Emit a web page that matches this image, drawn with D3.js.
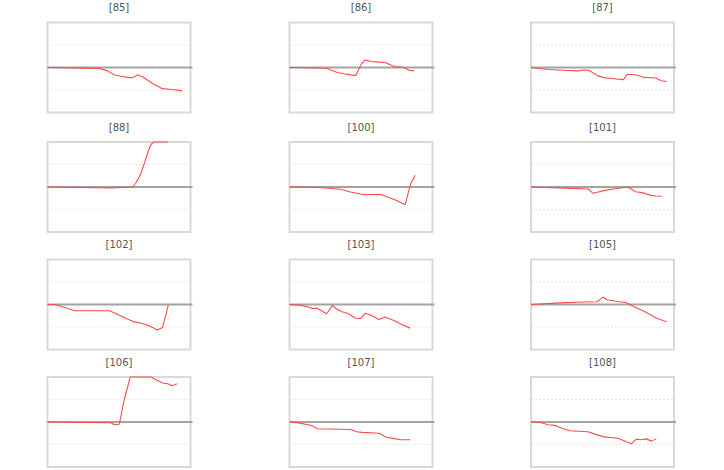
<!DOCTYPE html>
<html>
<head>
<meta charset="utf-8">
<script src="https://cdn.jsdelivr.net/npm/d3@7"></script>
<style>
  html, body { margin: 0; padding: 0; background: #fff; }
  svg { display: block; }
</style>
</head>
<body>
<svg id="chart" width="724" height="470"></svg>
<script>
// ---- data (time in % of period, value in units) ----
const titles = ["[85]", "[86]", "[87]", "[88]", "[100]", "[101]", "[102]", "[103]", "[105]", "[106]", "[107]", "[108]"];
const yTicks = [-1, 0, 1];
const s85 = [[0,0],[36.3,-0.04],[42,-0.15],[46.8,-0.33],[51.5,-0.39],[58.5,-0.46],[60.4,-0.42],[63.2,-0.33],[66.7,-0.42],[73.8,-0.72],[80.3,-0.94],[85.5,-0.97],[94.4,-1.04]];
const s86 = [[0,0],[25.9,-0.03],[33.4,-0.22],[38.1,-0.28],[46.3,-0.36],[50.2,0.15],[52.8,0.34],[56.8,0.27],[62.6,0.24],[67.3,0.21],[73.1,0.04],[80.1,0],[83.6,-0.12],[87.1,-0.15]];
const s87 = [[0,0],[4.2,-0.03],[12.4,-0.09],[23,-0.12],[32.3,-0.15],[37,-0.11],[40.5,-0.12],[46.4,-0.36],[51.1,-0.45],[58.1,-0.5],[64.6,-0.54],[67.4,-0.3],[73.8,-0.33],[79.2,-0.44],[87.4,-0.47],[90.9,-0.59],[94.8,-0.62]];
const s88 = [[0,0],[44.4,-0.04],[59.6,0],[62,0.2],[65,0.55],[68,1.1],[70.5,1.6],[72.5,1.9],[74.3,2.2],[84.1,2.3]];
const s100 = [[0,0],[18.5,-0.01],[36,-0.1],[41.8,-0.21],[51.2,-0.33],[64,-0.33],[74.5,-0.59],[80.8,-0.79],[84.6,0.12],[87.9,0.52]];
const s101 = [[0,0],[18.9,-0.04],[40,-0.09],[43.5,-0.28],[47,-0.22],[51.6,-0.15],[59.8,-0.07],[64,-0.03],[67.5,0],[70.3,-0.1],[73.1,-0.21],[77.8,-0.25],[82,-0.34],[87.1,-0.4],[91.4,-0.41]];
const s102 = [[0,0],[4.7,0],[10.6,-0.1],[16.4,-0.22],[19.5,-0.28],[43.4,-0.28],[48.1,-0.41],[54,-0.59],[59.9,-0.76],[64.1,-0.81],[69.2,-0.9],[73.5,-1.02],[76.8,-1.13],[80.5,-1.02],[84.5,-0.03]];
const s103 = [[0,0],[7.7,-0.04],[11.9,-0.09],[15.9,-0.18],[18.9,-0.16],[22.4,-0.28],[25.9,-0.41],[28.3,-0.22],[29.9,-0.04],[32.7,-0.19],[36.2,-0.31],[40.9,-0.4],[46.3,-0.61],[49.8,-0.62],[52.8,-0.39],[56.8,-0.47],[62.6,-0.67],[66.6,-0.56],[73.1,-0.71],[77.8,-0.87],[84.3,-1.05]];
const s105 = [[0,0],[16.9,0.06],[30.9,0.1],[46.1,0.12],[50.4,0.33],[53.2,0.21],[60.2,0.13],[66.5,0.09],[70.7,-0.06],[80.1,-0.33],[87.1,-0.59],[94.6,-0.77]];
const s106 = [[0,0],[44.4,-0.03],[46.7,-0.12],[50.2,-0.1],[53.7,1.0],[57.9,2.3],[72.4,2.1],[75.9,1.88],[80.6,1.73],[84.1,1.7],[87.1,1.61],[90.7,1.7]];
const s107 = [[0,0],[6.5,-0.04],[13.6,-0.13],[15.9,-0.16],[19.4,-0.3],[42.8,-0.33],[47,-0.43],[50.9,-0.46],[62.6,-0.5],[65,-0.58],[67.3,-0.67],[73.1,-0.74],[77.8,-0.79],[84.3,-0.79]];
const s108 = [[0,0],[6.1,-0.01],[11.9,-0.12],[16.6,-0.15],[21.2,-0.27],[27,-0.39],[39.9,-0.43],[45.2,-0.55],[51,-0.66],[60.8,-0.72],[65.5,-0.84],[70.2,-0.97],[73.7,-0.76],[76.5,-0.79],[80.7,-0.75],[84.2,-0.85],[87.6,-0.75]];
const seriesList = [s85, s86, s87, s88, s100, s101, s102, s103, s105, s106, s107, s108];

// ---- layout ----
const svg = d3.select("#chart");
const cols = 3, pw = 143, ph = 90;
const colLefts = [47.5, 289.5, 531];
const rowTops = [22.5, 142, 259.5, 377];

const x = d3.scaleLinear().domain([0, 100]).range([0, pw]);
const y = d3.scaleLinear().domain([-2, 2]).range([ph, 0]).clamp(true);
const line = d3.line().x(d => x(d[0])).y(d => y(d[1]));

titles.forEach((t, i) => {
  const c = i % cols, r = Math.floor(i / cols);
  const g = svg.append("g")
    .attr("transform", `translate(${colLefts[c]},${rowTops[r]})`);

  g.append("text")
    .attr("x", pw / 2).attr("y", -11.5)
    .attr("text-anchor", "middle")
    .style("font-family", "Verdana, 'DejaVu Sans', sans-serif")
    .style("font-size", "10px")
    .style("fill", "#555")
    .text(t);

  // gridlines
  g.selectAll("line.grid").data(yTicks.filter(v => v !== 0)).enter()
    .append("line").attr("class", "grid")
    .attr("x1", 0).attr("x2", pw)
    .attr("y1", d => y(d)).attr("y2", d => y(d))
    .attr("stroke", "#e6e6e6").attr("stroke-width", 1)
    .attr("stroke-dasharray", "2,2");

  // frame
  g.append("rect")
    .attr("x", 0).attr("y", 0).attr("width", pw).attr("height", ph)
    .attr("fill", "none").attr("stroke", "#d9d9d9").attr("stroke-width", 2);

  // zero line
  g.append("line")
    .attr("x1", 0).attr("x2", pw + 2)
    .attr("y1", y(0)).attr("y2", y(0))
    .attr("stroke", "#a3a3a3").attr("stroke-width", 2);

  // data line
  g.append("path")
    .datum(seriesList[i])
    .attr("d", line)
    .attr("fill", "none")
    .attr("stroke", "#ff4a4a")
    .attr("stroke-width", 1.1)
    .attr("stroke-linejoin", "round");
});
</script>
</body>
</html>
